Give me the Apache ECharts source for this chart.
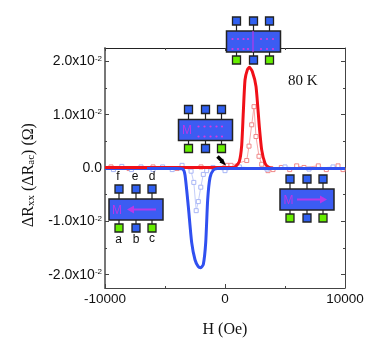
<!DOCTYPE html>
<html>
<head>
<meta charset="utf-8">
<style>
  html, body { margin: 0; background: #fff; }
  #chart { width: 388px; height: 350px; }
</style>
<script src="https://cdn.jsdelivr.net/npm/echarts@6/dist/echarts.min.js"></script>
</head>
<body>
<div id="chart"></div>
<script>
// values, H in Oe, dR in ohm
const redLine = [
  [-10000, 0.0001], [-8000, 0.0001], [-6000, 0.0001], [-4000, 0.0001], [-2000, 0.0001], [0, 0.0001], [600, 0.0001], [833, 0.0002],
  [1190, 0.0012], [1390, 0.0042], [1525, 0.0104], [1667, 0.0165], [1860, 0.0184], [2025, 0.0189],
  [2275, 0.0181], [2583, 0.0153], [2858, 0.0078], [3058, 0.0034], [3333, 0.0009], [3608, 0.0002], [4000, 0]
]
const blueLine = [
  [-10000, -0.0001], [-8000, -0.0001], [-6000, -0.0001], [-4000, -0.0001], [-3525, -0.0002], [-3333, -0.0013],
  [-3058, -0.0072], [-2775, -0.014], [-2500, -0.0172], [-2225, -0.0185], [-2025, -0.0187], [-1808, -0.0181],
  [-1608, -0.014], [-1442, -0.0059], [-1250, -0.0018], [-975, -0.0004], [-600, -0.0001], [0, -0.0001],
  [3000, -0.0001], [6000, -0.0001], [10000, -0.0001]
]
const redLineLeft = [[-10000, 0.0001], [-8000, 0.0001], [-6500, 0.0001]]
const redPoints = [
  [-9500, 0.0002], [-8000, -0.0001], [-6000, 0.0002], [-4000, -0.0001], [-2000, 0.0002], [0, 0.0002],
  [167, 0.0005], [500, 0.0005], [1810, 0.0014], [2000, 0.0041], [2225, 0.0081], [2417, 0.0115], [2583, 0.0059],
  [2833, 0.0022], [3058, 0.0007], [3583, -0.0005], [4000, -0.0003], [4692, 0.0001], [5392, -0.0003],
  [5975, 0.0004], [6583, 0.0001], [7775, 0.0004], [8442, -0.0003], [9417, 0.0004], [9833, -0.0003]
]
const bluePoints = [
  [-9300, -0.0003], [-8600, 0.0003], [-7800, -0.0003], [-7000, 0.0002], [-6000, -0.0003], [-5200, 0.0002],
  [-4400, -0.0003], [-3580, 0.0005], [-2825, -0.0006], [-2600, -0.0027], [-2400, -0.008], [-2225, -0.0063],
  [-2017, -0.0036], [-1808, -0.0012], [-1525, -0.0005], [-1000, 0.0001], [0, -0.0005], [1200, 0.0002],
  [3500, -0.0002], [5000, 0.0002], [7000, -0.0002], [9000, 0.0002]
]
const yMajor = [-0.02, -0.01, 0, 0.01, 0.02]
const yMinor = [-0.015, -0.005, 0.005, 0.015]
const yLabels = { '-0.02': '-2.0', '-0.01': '-1.0', '0': '0.0', '0.01': '1.0', '0.02': '2.0' }

const BLUE = '#3050f0'
const RED = '#f01018'
const BODY = '#3c5cf2'
const PAD_BLUE = '#3060f0'
const PAD_GREEN = '#66ee00'
const PURPLE = '#b838e8'
const DOT = '#d838e0'
const EDGE = '#222'

function dots(xs, ys) {
  const out = []
  ys.forEach((y) => xs.forEach((x) => {
    out.push({ type: 'circle', z: 20, shape: { cx: x, cy: y, r: 1.1 }, style: { fill: DOT } })
  }))
  return out
}

// one device sketch: body with three pads above and three below
function device(left, top, bottomColors) {
  const w = 54, h = 21, padSize = 8
  const xs = [left + 10, left + 27, left + 43]
  const topY = top - 10, botY = top + h + 8
  const out = []
  xs.forEach((x, i) => {
    out.push({ type: 'line', z: 18, shape: { x1: x, y1: topY, x2: x, y2: botY }, style: { stroke: EDGE, lineWidth: 1.2 } })
    out.push({ type: 'rect', z: 19, shape: { x: x - padSize / 2, y: topY - padSize / 2, width: padSize, height: padSize }, style: { fill: PAD_BLUE, stroke: EDGE, lineWidth: 1.3 } })
    out.push({ type: 'rect', z: 19, shape: { x: x - padSize / 2, y: botY - padSize / 2, width: padSize, height: padSize }, style: { fill: bottomColors[i], stroke: EDGE, lineWidth: 1.3 } })
  })
  out.push({ type: 'rect', z: 19, shape: { x: left, y: top, width: w, height: h }, style: { fill: BODY, stroke: EDGE, lineWidth: 1.5 } })
  return out
}

function letterM(x, y) {
  return { type: 'text', z: 20, x: x, y: y, style: { text: 'M', fill: PURPLE, font: '12px "Liberation Sans"', textAlign: 'center', textVerticalAlign: 'middle' } }
}

function moment(x1, x2, y) {
  const dir = x2 > x1 ? 1 : -1
  return [
    { type: 'line', z: 20, shape: { x1: x1, y1: y, x2: x2 - dir * 4, y2: y }, style: { stroke: PURPLE, lineWidth: 2 } },
    { type: 'polygon', z: 20, shape: { points: [[x2, y], [x2 - dir * 7, y - 4], [x2 - dir * 7, y + 4]] }, style: { fill: PURPLE } }
  ]
}

function padLabel(text, x, y) {
  return { type: 'text', z: 20, x: x, y: y, style: { text: text, fill: '#111', font: '12px "Liberation Sans"', textAlign: 'center', textVerticalAlign: 'middle' } }
}

const GB = [PAD_GREEN, PAD_BLUE, PAD_GREEN]
const sketches = [
  // top, above the red peak
  ...device(226.5, 31, GB),
  { type: 'line', z: 20, shape: { x1: 253, y1: 31, x2: 253, y2: 52 }, style: { stroke: PURPLE, lineWidth: 1.2 } },
  ...dots([232.5, 238, 243.5, 248], [39, 49]),
  ...dots([261, 267, 273], [39, 49]),
  // middle, left of the peak
  ...device(178.5, 119.5, GB),
  letterM(187, 131),
  ...dots([198.5, 204.5, 210.5, 216.5, 222], [126.5, 136.5]),
  // left, field down
  ...device(109, 199, GB),
  letterM(117, 211),
  ...moment(156, 127, 209.5),
  padLabel('f', 118, 177), padLabel('e', 135, 177), padLabel('d', 152, 177),
  padLabel('a', 118.5, 239.5), padLabel('b', 136, 240), padLabel('c', 152, 239),
  // right, field up
  ...device(280, 189, GB),
  letterM(288.5, 201),
  ...moment(297, 327, 199.5),
  // small black pointer to the switching point
  { type: 'line', z: 20, shape: { x1: 217.5, y1: 156.5, x2: 222, y2: 161 }, style: { stroke: '#000', lineWidth: 3.5 } },
  { type: 'polygon', z: 20, shape: { points: [[226, 165.5], [219.5, 162.5], [223, 158.5]] }, style: { fill: '#000' } },
  { type: 'text', z: 20, x: 288, y: 81, style: { text: '80 K', fill: '#111', font: '15px "Liberation Serif"', textVerticalAlign: 'middle' } }
]

const yRange = { min: -0.0225, max: 0.0225 }
const hiddenLabel = { show: false }

const chart = echarts.init(document.getElementById('chart'), null, { renderer: 'canvas' })
chart.setOption({
  animation: false,
  backgroundColor: '#fff',
  grid: { left: 105, top: 48, width: 240, height: 240 },
  xAxis: [
    {
      type: 'value', min: -10000, max: 10000, interval: 10000,
      name: 'H (Oe)', nameLocation: 'middle', nameGap: 34,
      nameTextStyle: { fontFamily: 'Liberation Serif', fontSize: 16, color: '#111' },
      splitLine: { show: false },
      axisLine: { onZero: false, lineStyle: { color: '#444', width: 1 } },
      axisTick: { inside: true, length: 4, lineStyle: { color: '#444' } },
      minorTick: { show: true, splitNumber: 2, length: 2, lineStyle: { color: '#444' } },
      axisLabel: { fontFamily: 'Liberation Sans', fontSize: 13.5, color: '#111', margin: 4, formatter: (v) => String(v) }
    },
    {
      type: 'value', position: 'top', min: -10000, max: 10000, interval: 10000,
      splitLine: { show: false },
      axisLine: { onZero: false, lineStyle: { color: '#222', width: 1 } },
      axisTick: { inside: true, length: 3, lineStyle: { color: '#444' } },
      minorTick: { show: true, splitNumber: 2, length: 2, lineStyle: { color: '#444' } },
      axisLabel: hiddenLabel
    }
  ],
  yAxis: [
    {
      type: 'value', ...yRange,
      name: 'ΔR{sub|xx} (ΔR{sub|ac}) (Ω)', nameLocation: 'middle', nameGap: 68, nameRotate: 90,
      nameTextStyle: {
        fontFamily: 'Liberation Serif', fontSize: 16, color: '#111', padding: [0, 14, 0, 0],
        rich: { sub: { fontFamily: 'Liberation Serif', fontSize: 11, verticalAlign: 'bottom', padding: [6, 0, 0, 0], color: '#111' } }
      },
      splitLine: { show: false },
      axisLine: { onZero: false, lineStyle: { color: '#777', width: 2 } },
      axisTick: { inside: true, length: 4, customValues: yMajor, lineStyle: { color: '#444' } },
      axisLabel: {
        customValues: yMajor, margin: 3,
        formatter: (v) => {
          const key = String(Math.round(v * 100) / 100)
          return v === 0 ? '{a|0.0}' : `{a|${yLabels[key]}x10}{s|-2}`
        },
        rich: {
          a: { fontFamily: 'Liberation Sans', fontSize: 14, color: '#111' },
          s: { fontFamily: 'Liberation Sans', fontSize: 8, color: '#111', verticalAlign: 'top', padding: [0, 0, 6, 0] }
        }
      }
    },
    {
      type: 'value', position: 'right', ...yRange,
      splitLine: { show: false },
      axisLine: { onZero: false, lineStyle: { color: '#444', width: 1 } },
      axisTick: { inside: true, length: 4, customValues: yMajor, lineStyle: { color: '#444' } },
      axisLabel: hiddenLabel
    },
    {
      type: 'value', position: 'left', ...yRange,
      splitLine: { show: false }, axisLine: { show: false, onZero: false },
      axisTick: { inside: true, length: 2, customValues: yMinor, lineStyle: { color: '#444' } },
      axisLabel: hiddenLabel
    },
    {
      type: 'value', position: 'right', ...yRange,
      splitLine: { show: false }, axisLine: { show: false, onZero: false },
      axisTick: { inside: true, length: 2, customValues: yMinor, lineStyle: { color: '#444' } },
      axisLabel: hiddenLabel
    }
  ],
  series: [
    {
      name: 'dRac up', type: 'line', data: redPoints, z: 2, symbol: 'rect', symbolSize: 4,
      lineStyle: { color: '#f8a8a8', width: 1 },
      itemStyle: { color: '#fff', borderColor: '#f08888', borderWidth: 1 }
    },
    {
      name: 'dRac down', type: 'line', data: bluePoints, z: 2, symbol: 'rect', symbolSize: 4,
      lineStyle: { color: '#c4cefa', width: 1 },
      itemStyle: { color: '#fff', borderColor: '#a8b6f6', borderWidth: 1 }
    },
    { name: 'dRxx up', type: 'line', data: redLine, z: 3, smooth: 0.2, showSymbol: false, symbol: 'none', lineStyle: { color: RED, width: 3 } },
    { name: 'dRxx down', type: 'line', data: blueLine, z: 4, smooth: 0.2, showSymbol: false, symbol: 'none', lineStyle: { color: BLUE, width: 3 } },
    { name: 'dRxx up left', type: 'line', data: redLineLeft, z: 5, showSymbol: false, symbol: 'none', lineStyle: { color: RED, width: 3 } }
  ],
  graphic: sketches
})
</script>
</body>
</html>
